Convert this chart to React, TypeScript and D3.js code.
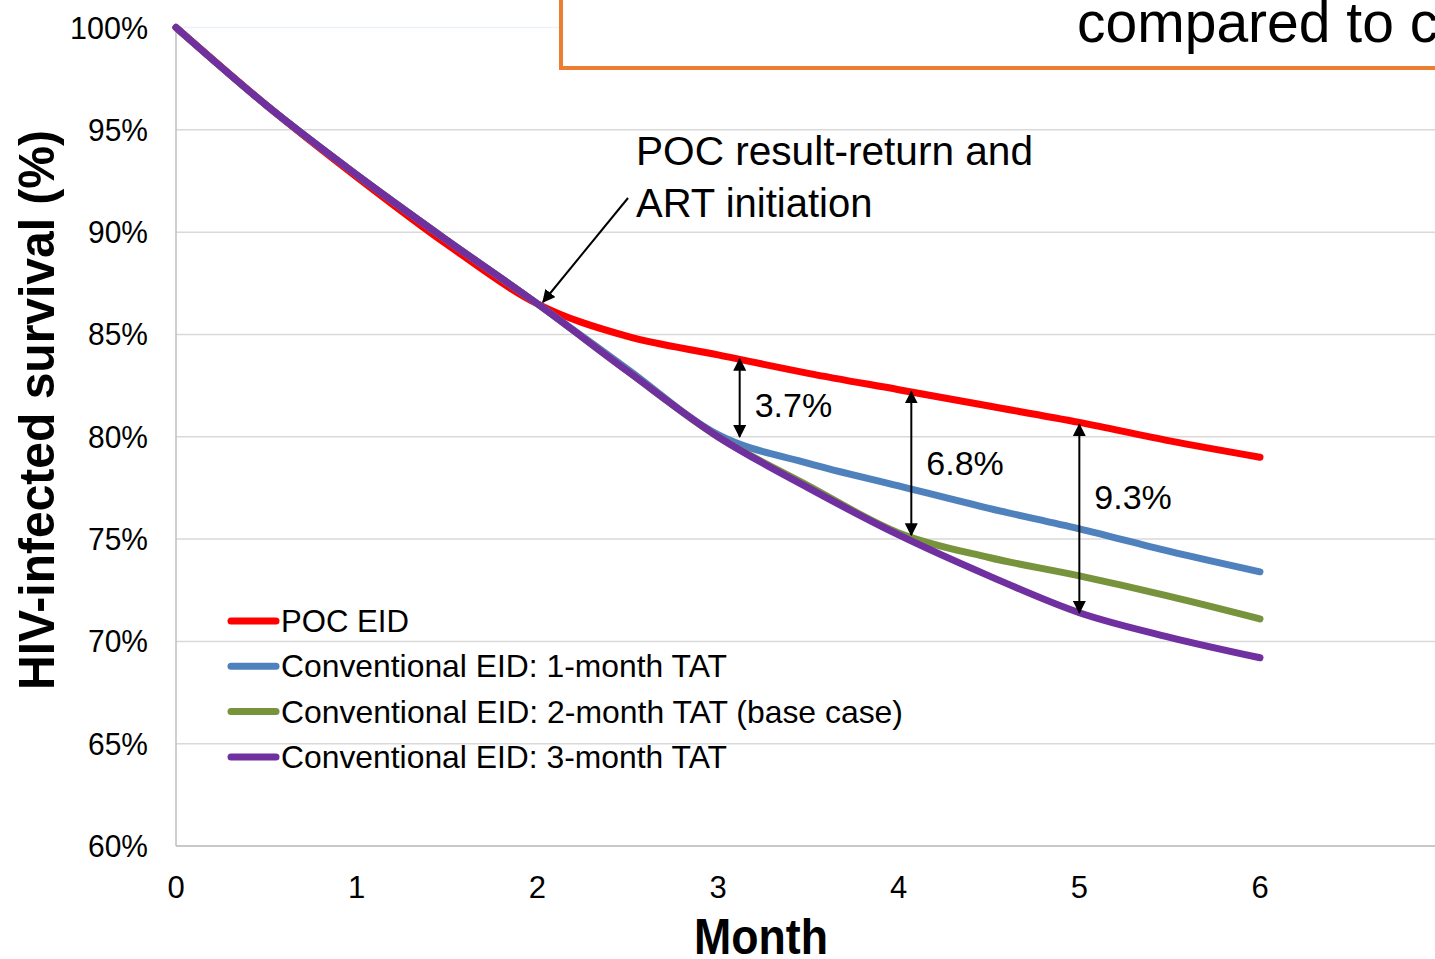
import React from "react";
import * as d3 from "d3";

const months = [0, 0.5, 1, 1.5, 2, 2.5, 3, 3.5, 4, 4.5, 5, 5.5, 6];
const pocEID = [100, 96.2, 92.7, 89.4, 86.5, 84.9, 84.0, 83.1, 82.3, 81.5, 80.7, 79.8, 79.0];
const conv1 = [100, 96.2, 92.8, 89.6, 86.5, 83.3, 80.1, 78.7, 77.6, 76.5, 75.5, 74.4, 73.4];
const conv2 = [100, 96.2, 92.8, 89.6, 86.5, 83.2, 80.0, 77.6, 75.3, 74.1, 73.2, 72.2, 71.1];
const conv3 = [100, 96.2, 92.8, 89.6, 86.5, 83.2, 80.0, 77.5, 75.2, 73.2, 71.4, 70.2, 69.2];

const seriesNames = [
  "POC EID",
  "Conventional EID: 1-month TAT",
  "Conventional EID: 2-month TAT (base case)",
  "Conventional EID: 3-month TAT",
];
const seriesColors = ["#FF0000", "#4F81BD", "#77933C", "#7030A0"];
const seriesValues = [pocEID, conv1, conv2, conv3];

const yTicks = [60, 65, 70, 75, 80, 85, 90, 95, 100];
const xTicks = [0, 1, 2, 3, 4, 5, 6];

// difference arrows: month, top value, bottom value, label
const diffMonths = [3.12, 4.07, 5.0];
const diffTop = [83.8, 82.2, 80.6];
const diffBottom = [80.0, 75.2, 71.4];
const diffLabels = ["3.7%", "6.8%", "9.3%"];

const W = 1435;
const H = 959;

export default function App() {
  const x = d3.scaleLinear().domain([0, 6]).range([176, 1260]);
  const y = d3.scaleLinear().domain([60, 100]).range([846, 27.5]);
  const line = d3
    .line<number>()
    .x((_, i) => x(months[i]))
    .y((d) => y(d))
    .curve(d3.curveMonotoneX);

  const font = "Liberation Sans, Arial, sans-serif";
  const legendW = [128, 446, 622, 446];
  const labelY = [417, 475, 509];

  return (
    <svg
      width={W}
      height={H}
      style={{ position: "absolute", left: 0, top: 0, background: "#fff" }}
      fontFamily={font}
    >
      <defs>
        <marker id="ah" viewBox="0 0 10 10" refX="9" refY="5" markerWidth="6.5" markerHeight="6.5" orient="auto-start-reverse" markerUnits="strokeWidth">
          <path d="M0,0 L10,5 L0,10 z" fill="#000" />
        </marker>
      </defs>
      <rect x={0} y={0} width={W} height={H} fill="#fff" />

      {/* gridlines */}
      {yTicks.map((t) => (
        <line key={t} x1={x(0)} x2={W} y1={y(t)} y2={y(t)} stroke={t === 100 ? "#EAF1FA" : "#D9D9D9"} strokeWidth={1.5} />
      ))}
      {/* axes */}
      <line x1={x(0)} x2={x(0)} y1={y(100)} y2={y(60)} stroke="#BFBFBF" strokeWidth={1.5} />
      <line x1={x(0)} x2={W} y1={y(60)} y2={y(60)} stroke="#BFBFBF" strokeWidth={1.5} />

      {/* y tick labels */}
      {yTicks.map((t) => (
        <text key={t} x={148} y={y(t) + 11} textAnchor="end" fontSize={31} fill="#000" textLength={t === 100 ? 78 : 60} lengthAdjust="spacingAndGlyphs">
          {t}%
        </text>
      ))}
      {/* x tick labels */}
      {xTicks.map((t) => (
        <text key={t} x={x(t)} y={898} textAnchor="middle" fontSize={31} fill="#000">
          {t}
        </text>
      ))}

      {/* axis titles */}
      <text
        transform={`translate(54,410) rotate(-90)`}
        textAnchor="middle"
        fontSize={50}
        fontWeight="bold"
        textLength={560}
        lengthAdjust="spacingAndGlyphs"
        fill="#000"
      >
        HIV-infected survival (%)
      </text>
      <text x={761} y={954} textAnchor="middle" fontSize={50} fontWeight="bold" textLength={134} lengthAdjust="spacingAndGlyphs" fill="#000">
        Month
      </text>

      {/* series */}
      {seriesValues.map((vals, i) => (
        <path key={i} d={line(vals) || ""} fill="none" stroke={seriesColors[i]} strokeWidth={7} strokeLinecap="round" strokeLinejoin="round" />
      ))}

      {/* difference arrows */}
      {diffMonths.map((m, i) => (
        <g key={i}>
          <line x1={x(m)} x2={x(m)} y1={y(diffTop[i])} y2={y(diffBottom[i])} stroke="#000" strokeWidth={2} markerStart="url(#ah)" markerEnd="url(#ah)" />
          <text x={x(m) + 15} y={labelY[i]} fontSize={34} fill="#000">
            {diffLabels[i]}
          </text>
        </g>
      ))}

      {/* annotation */}
      <text x={636} y={165} fontSize={40} fill="#000" textLength={397} lengthAdjust="spacingAndGlyphs">POC result-return and</text>
      <text x={636} y={217} fontSize={40} fill="#000">ART initiation</text>
      <line x1={628} y1={198} x2={543} y2={302} stroke="#000" strokeWidth={2} markerEnd="url(#ah)" />

      {/* legend */}
      {seriesNames.map((n, i) => {
        const ly = 621 + i * 45.3;
        return (
          <g key={n}>
            <line x1={231} x2={276} y1={ly} y2={ly} stroke={seriesColors[i]} strokeWidth={7} strokeLinecap="round" />
            <text x={281} y={ly + 11} fontSize={32} fill="#000" textLength={legendW[i]} lengthAdjust="spacingAndGlyphs">
              {n}
            </text>
          </g>
        );
      })}

      {/* top box */}
      <rect x={561} y={-20} width={1000} height={88} fill="#fff" stroke="#ED7D31" strokeWidth={4} />
      <text x={1077} y={42} fontSize={57} fill="#000">compared to conventional EID</text>
    </svg>
  );
}
